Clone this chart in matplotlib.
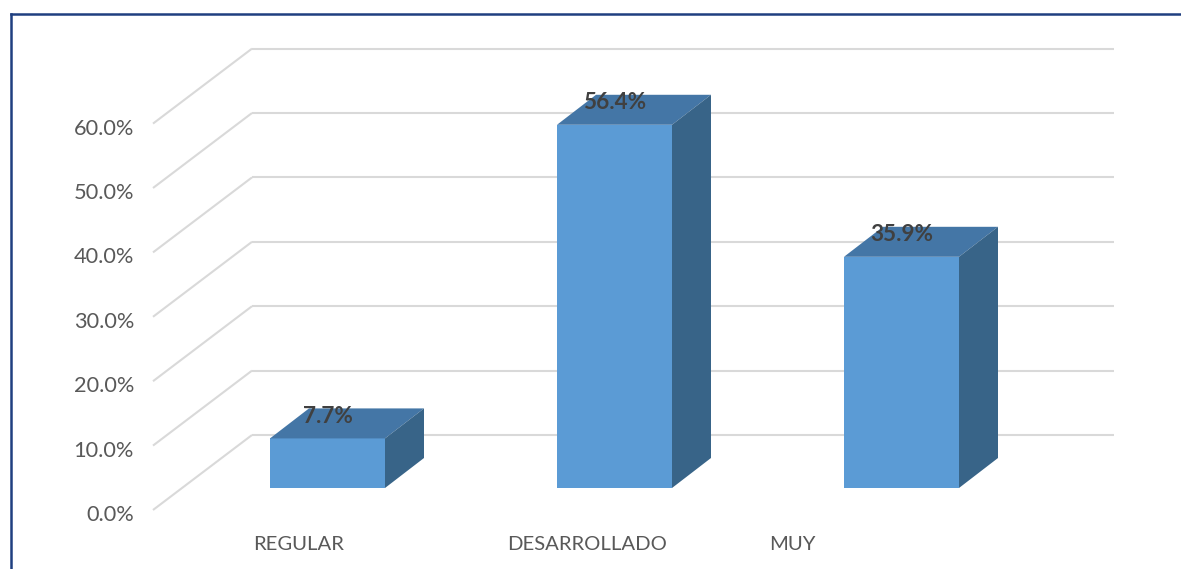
import matplotlib
matplotlib.use("Agg")
import matplotlib.pyplot as plt
from matplotlib.lines import Line2D
from matplotlib.patches import Polygon
from matplotlib.transforms import Affine2D

categories = ["REGULAR", "DESARROLLADO", "MUY"]
values = [7.7, 56.4, 35.9]
value_labels = ["7.7%", "56.4%", "35.9%"]
grid_values = [0, 10, 20, 30, 40, 50, 60]
tick_labels = ["0.0%", "10.0%", "20.0%", "30.0%", "40.0%", "50.0%", "60.0%"]

W, H, DPI = 1181, 569, 100
plt.rcParams["font.family"] = ["Lato", "DejaVu Sans"]

fig = plt.figure(figsize=(W / DPI, H / DPI), dpi=DPI, facecolor="white")
ax = fig.add_axes([0, 0, 1, 1])
ax.axis("off")

# scale: bar centres every 287 px from 327.5; value 0 at y=488, 6.44 px per percent
CX0, CDX, Y0, PPV = 327.5, 287.0, 488.0, 6.44
ax.set_xlim((0 - CX0) / CDX, (W - CX0) / CDX)
ax.set_ylim((Y0 - H) / PPV, Y0 / PPV)

def px_x(p):
    return (p - CX0) / CDX

def shifted(dx, dy):
    return ax.transData + Affine2D().translate(dx, dy)

front = shifted(0, -22)       # front edge of the floor
back = shifted(0, 53)         # back wall
bar_w = 115 / CDX
GRID = "#D9D9D9"

for v in grid_values:
    y_front = front.transform((px_x(153), v))
    y_back = back.transform((px_x(252), v))
    ax.add_line(Line2D([y_front[0], y_back[0]], [y_front[1], y_back[1]],
                       transform=None, color=GRID, lw=1.5, zorder=1,
                       solid_capstyle="butt"))
    ax.plot([px_x(252), px_x(1114)], [v, v], transform=back, color=GRID,
            lw=1.5, zorder=1, solid_capstyle="butt")

for v, lab in zip(grid_values, tick_labels):
    ax.annotate(lab, xy=(px_x(134), v), xycoords=front, xytext=(0, -5),
                textcoords="offset pixels", ha="right", va="center",
                fontsize=15.7, color="#595959")

DX, DY = 39, 30
for i, (v, lab) in enumerate(zip(values, value_labels)):
    x0, x1 = i - bar_w / 2, i + bar_w / 2
    d = ax.transData.transform
    (ax0, ay0), (ax1, ay1) = d((x0, 0)), d((x1, v))
    ax.bar(i, v, width=bar_w, color="#5B9BD5", zorder=3)
    ax.add_patch(Polygon([(ax0, ay1), (ax1, ay1), (ax1 + DX, ay1 + DY), (ax0 + DX, ay1 + DY)],
                         closed=True, transform=None, facecolor="#4476A6", edgecolor="none", zorder=3))
    ax.add_patch(Polygon([(ax1, ay0), (ax1 + DX, ay0 + DY), (ax1 + DX, ay1 + DY), (ax1, ay1)],
                         closed=True, transform=None, facecolor="#386488", edgecolor="none", zorder=3))
    ax.annotate(lab, xy=(i, v), xytext=(0.5, 22), textcoords="offset pixels",
                ha="center", va="center", fontsize=16.2, fontweight="bold",
                color="#404040", zorder=4)

label_px = [299, 587, 792]
for p, lab in zip(label_px, categories):
    ax.text(px_x(p), (Y0 - 545) / PPV, lab, ha="center", va="center",
            fontsize=14.6, color="#595959")

BORDER = "#1F3F80"
fig.add_artist(Line2D([10.5 / W, 10.5 / W], [0, 1 - 13.5 / H], color=BORDER, lw=1.8,
                      transform=fig.transFigure, solid_capstyle="projecting"))
fig.add_artist(Line2D([10.5 / W, 1], [1 - 13.5 / H, 1 - 13.5 / H], color=BORDER, lw=1.8,
                      transform=fig.transFigure, solid_capstyle="projecting"))

fig.savefig("out.png", dpi=DPI, facecolor="white")
